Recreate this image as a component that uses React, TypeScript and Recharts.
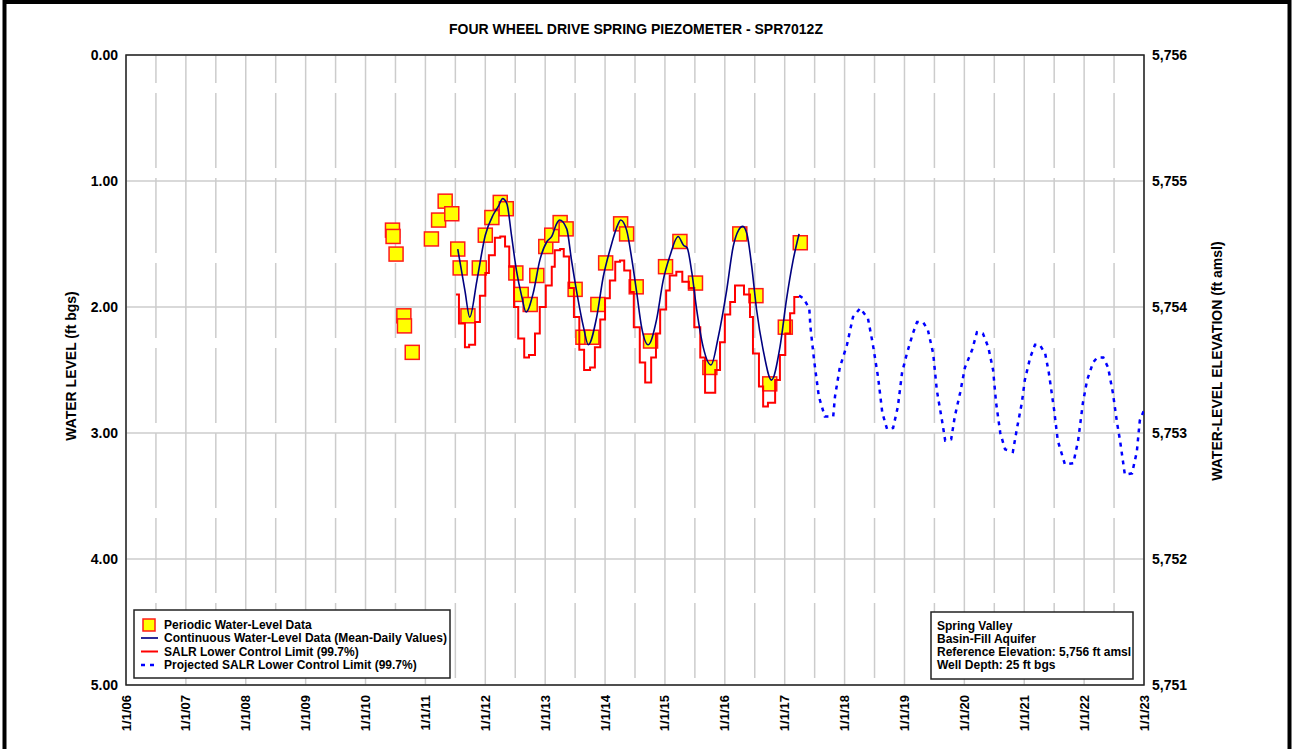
import React from 'react';
import { ComposedChart, Line, Scatter, XAxis, YAxis, CartesianGrid, ReferenceArea } from 'recharts';

const FONT = "'Liberation Sans', Arial, Helvetica, sans-serif";

const yearTicks = [2006, 2007, 2008, 2009, 2010, 2011, 2012, 2013, 2014, 2015, 2016, 2017, 2018, 2019, 2020, 2021, 2022, 2023];
const yearLabels = ['1/1/06', '1/1/07', '1/1/08', '1/1/09', '1/1/10', '1/1/11', '1/1/12', '1/1/13', '1/1/14', '1/1/15', '1/1/16', '1/1/17', '1/1/18', '1/1/19', '1/1/20', '1/1/21', '1/1/22', '1/1/23'];
const midYears = [2006.5, 2007.5, 2008.5, 2009.5, 2010.5, 2011.5, 2012.5, 2013.5, 2014.5, 2015.5, 2016.5, 2017.5, 2018.5, 2019.5, 2020.5, 2021.5, 2022.5];
const levelTicks = [0, 1, 2, 3, 4, 5];
const elevTicks = [5751, 5752, 5753, 5754, 5755, 5756];

const periodicT = [2010.45, 2010.46, 2010.51, 2010.64, 2010.65, 2010.78, 2011.10, 2011.22, 2011.33, 2011.44, 2011.54, 2011.58, 2011.71, 2011.90, 2012.00, 2012.11, 2012.25, 2012.35, 2012.51, 2012.60, 2012.75, 2012.86, 2013.01, 2013.11, 2013.25, 2013.35, 2013.50, 2013.63, 2013.78, 2013.88, 2014.01, 2014.26, 2014.36, 2014.52, 2014.76, 2015.01, 2015.25, 2015.51, 2015.75, 2016.25, 2016.52, 2016.75, 2017.01, 2017.26];
const periodicV = [1.39, 1.44, 1.58, 2.07, 2.15, 2.36, 1.46, 1.31, 1.16, 1.26, 1.54, 1.69, 2.07, 1.69, 1.43, 1.29, 1.17, 1.22, 1.73, 1.90, 1.98, 1.75, 1.52, 1.43, 1.33, 1.38, 1.86, 2.24, 2.24, 1.98, 1.65, 1.34, 1.42, 1.84, 2.27, 1.68, 1.48, 1.81, 2.48, 1.42, 1.91, 2.61, 2.16, 1.49];

const contT = [2011.54, 2011.66, 2011.74, 2011.86, 2012.00, 2012.13, 2012.22, 2012.29, 2012.36, 2012.44, 2012.52, 2012.61, 2012.68, 2012.80, 2012.91, 2013.03, 2013.11, 2013.19, 2013.24, 2013.36, 2013.44, 2013.53, 2013.64, 2013.72, 2013.86, 2013.97, 2014.08, 2014.22, 2014.26, 2014.36, 2014.45, 2014.53, 2014.61, 2014.72, 2014.86, 2014.97, 2015.08, 2015.22, 2015.31, 2015.37, 2015.45, 2015.53, 2015.64, 2015.77, 2015.89, 2016.03, 2016.14, 2016.23, 2016.30, 2016.37, 2016.45, 2016.53, 2016.64, 2016.78, 2016.92, 2017.03, 2017.14, 2017.24];
const contV = [1.54, 1.87, 2.08, 1.79, 1.43, 1.27, 1.20, 1.14, 1.18, 1.44, 1.71, 1.92, 2.04, 1.89, 1.63, 1.48, 1.44, 1.34, 1.31, 1.38, 1.63, 1.89, 2.16, 2.30, 2.08, 1.76, 1.55, 1.34, 1.31, 1.39, 1.63, 1.89, 2.16, 2.30, 2.10, 1.79, 1.60, 1.44, 1.51, 1.53, 1.73, 2.02, 2.32, 2.46, 2.24, 1.87, 1.52, 1.39, 1.36, 1.42, 1.68, 2.02, 2.34, 2.58, 2.32, 1.94, 1.63, 1.42];

const salrT = [2011.51, 2011.56, 2011.66, 2011.73, 2011.83, 2011.91, 2012.00, 2012.06, 2012.16, 2012.25, 2012.33, 2012.40, 2012.48, 2012.55, 2012.65, 2012.73, 2012.83, 2012.91, 2013.01, 2013.11, 2013.16, 2013.25, 2013.31, 2013.40, 2013.48, 2013.57, 2013.65, 2013.75, 2013.83, 2013.92, 2014.00, 2014.08, 2014.17, 2014.25, 2014.32, 2014.42, 2014.48, 2014.58, 2014.67, 2014.77, 2014.85, 2014.92, 2015.02, 2015.08, 2015.19, 2015.29, 2015.40, 2015.49, 2015.59, 2015.67, 2015.84, 2015.92, 2016.00, 2016.09, 2016.17, 2016.32, 2016.42, 2016.47, 2016.57, 2016.64, 2016.72, 2016.84, 2016.92, 2017.01, 2017.09, 2017.16, 2017.24];
const salrV = [1.90, 2.13, 2.32, 2.30, 2.12, 1.91, 1.73, 1.59, 1.45, 1.44, 1.52, 1.68, 2.00, 2.25, 2.40, 2.38, 2.21, 2.00, 1.83, 1.68, 1.55, 1.54, 1.60, 1.85, 2.08, 2.34, 2.50, 2.48, 2.32, 2.10, 1.93, 1.79, 1.64, 1.63, 1.71, 1.88, 2.16, 2.44, 2.60, 2.40, 2.21, 2.02, 1.87, 1.75, 1.72, 1.80, 1.85, 2.16, 2.40, 2.68, 2.50, 2.28, 2.06, 1.96, 1.83, 1.90, 2.08, 2.37, 2.63, 2.79, 2.76, 2.58, 2.38, 2.21, 2.05, 1.92, 1.92];

const projT = [2017.24, 2017.31, 2017.41, 2017.43, 2017.49, 2017.57, 2017.67, 2017.81, 2017.84, 2017.92, 2018.04, 2018.14, 2018.26, 2018.39, 2018.47, 2018.56, 2018.63, 2018.71, 2018.81, 2018.89, 2018.96, 2019.04, 2019.14, 2019.21, 2019.31, 2019.39, 2019.48, 2019.54, 2019.63, 2019.68, 2019.78, 2019.84, 2019.93, 2020.01, 2020.13, 2020.21, 2020.31, 2020.40, 2020.48, 2020.53, 2020.60, 2020.68, 2020.81, 2020.88, 2020.96, 2021.01, 2021.10, 2021.18, 2021.26, 2021.35, 2021.41, 2021.50, 2021.56, 2021.68, 2021.82, 2021.90, 2021.98, 2022.05, 2022.15, 2022.22, 2022.32, 2022.40, 2022.48, 2022.55, 2022.60, 2022.68, 2022.80, 2022.88, 2022.93, 2023.00];
const projV = [1.91, 1.93, 2.01, 2.16, 2.42, 2.71, 2.87, 2.87, 2.71, 2.48, 2.30, 2.08, 2.01, 2.09, 2.29, 2.56, 2.84, 2.97, 2.96, 2.79, 2.52, 2.37, 2.21, 2.12, 2.12, 2.18, 2.37, 2.66, 2.91, 3.06, 3.05, 2.87, 2.68, 2.48, 2.34, 2.20, 2.21, 2.32, 2.50, 2.76, 3.00, 3.13, 3.15, 2.96, 2.76, 2.58, 2.40, 2.30, 2.30, 2.37, 2.52, 2.82, 3.06, 3.25, 3.24, 3.06, 2.76, 2.58, 2.44, 2.40, 2.40, 2.48, 2.68, 2.92, 3.06, 3.33, 3.32, 3.15, 2.90, 2.82];

const legendLabels = [
  'Periodic Water-Level Data',
  'Continuous Water-Level Data (Mean-Daily Values)',
  'SALR Lower Control Limit (99.7%)',
  'Projected SALR Lower Control Limit (99.7%)',
];
const infoLines = ['Spring Valley', 'Basin-Fill Aquifer', 'Reference Elevation: 5,756 ft amsl', 'Well Depth: 25 ft bgs'];

const toRows = (ts: number[], vs: number[]) => ts.map((t, i) => ({ t, v: vs[i] }));
const periodic = toRows(periodicT, periodicV);
const cont = toRows(contT, contV);
const salr = toRows(salrT, salrV);
const proj = toRows(projT, projV);

const Square = (props: any) => {
  const { cx, cy } = props;
  if (cx == null || cy == null) return null;
  return <rect x={cx - 7} y={cy - 7} width={14} height={14} fill="#ffff00" stroke="#ff1a1a" strokeWidth={1.5} />;
};

const XTick = (props: any) => {
  const { x, y, payload } = props;
  const idx = yearTicks.indexOf(payload.value);
  const label = idx >= 0 ? yearLabels[idx] : '';
  const yy = y + 2;
  return (
    <text x={x} y={yy} transform={`rotate(-90 ${x} ${yy})`} textAnchor="end" dy="0.35em" fontFamily={FONT} fontWeight="bold" fontSize={13} fill="#000">
      {label}
    </text>
  );
};

const tickStyle = { fontFamily: FONT, fontWeight: 'bold', fontSize: 14, fill: '#000' } as any;

export default function App() {
  return (
    <div style={{ position: 'absolute', left: 0, top: 0, width: 1296, height: 749, background: '#fff', overflow: 'hidden' }}>
      <ComposedChart width={1296} height={749} margin={{ top: 55, right: 0, bottom: 0, left: 0 }}>
        <CartesianGrid yAxisId="L" horizontal vertical verticalValues={yearTicks} stroke="#cccccc" strokeWidth={1.5} />
        <CartesianGrid yAxisId="L" horizontal={false} vertical verticalValues={midYears} stroke="#cccccc" strokeWidth={1.5} strokeDasharray="75 10" strokeDashoffset={47} />
        <XAxis dataKey="t" type="number" domain={[2006, 2023]} ticks={yearTicks} interval={0} height={64} tick={<XTick />} tickLine={false} axisLine={false} allowDataOverflow />
        <YAxis yAxisId="L" type="number" domain={[0, 5]} reversed ticks={levelTicks} interval={0} width={126} tick={tickStyle} tickFormatter={(v: number) => v.toFixed(2)} axisLine={false} tickLine={false} allowDataOverflow />
        <YAxis yAxisId="R" orientation="right" type="number" domain={[5751, 5756]} ticks={elevTicks} interval={0} width={152} tick={tickStyle} tickFormatter={(v: number) => v.toLocaleString('en-US')} axisLine={false} tickLine={false} allowDataOverflow />
        <ReferenceArea yAxisId="L" x1={2006} x2={2023} y1={0} y2={5} fill="none" fillOpacity={0} stroke="#222" strokeWidth={1.5} ifOverflow="visible" />
        <Scatter yAxisId="L" data={periodic} dataKey="v" shape={Square} isAnimationActive={false} zIndex={350} />
        <Line yAxisId="L" data={salr} dataKey="v" type="stepAfter" stroke="#ff0000" strokeWidth={2} dot={false} activeDot={false} isAnimationActive={false} />
        <Line yAxisId="L" data={cont} dataKey="v" type="monotone" stroke="#000080" strokeWidth={1.6} dot={false} activeDot={false} isAnimationActive={false} />
        <Line yAxisId="L" data={proj} dataKey="v" type="linear" stroke="#0000ff" strokeWidth={2.5} strokeDasharray="4 5" dot={false} activeDot={false} isAnimationActive={false} />
      </ComposedChart>
      <svg width={1296} height={749} style={{ position: 'absolute', left: 0, top: 0, pointerEvents: 'none' }}>
        <rect x={4.5} y={2} width={1285} height={800} fill="none" stroke="#000" strokeWidth={4} />
        <text x={636} y={34} textAnchor="middle" fontFamily={FONT} fontWeight="bold" fontSize={14} fill="#000">FOUR WHEEL DRIVE SPRING PIEZOMETER - SPR7012Z</text>
        <text x={71} y={366} transform="rotate(-90 71 366)" textAnchor="middle" dy="0.35em" fontFamily={FONT} fontWeight="bold" fontSize={14} fill="#000">WATER LEVEL (ft bgs)</text>
        <text x={1217} y={361} transform="rotate(-90 1217 361)" textAnchor="middle" dy="0.35em" fontFamily={FONT} fontWeight="bold" fontSize={14} fill="#000">WATER-LEVEL ELEVATION (ft amsl)</text>
        <g>
          <rect x={134} y={610} width={316} height={68} fill="#fff" stroke="#222" strokeWidth={1.5} />
          <rect x={143} y={619} width={12} height={12} fill="#ffff00" stroke="#ff1a1a" strokeWidth={1.5} />
          <line x1={141} x2={158} y1={638} y2={638} stroke="#2a2a9a" strokeWidth={2} />
          <line x1={141} x2={158} y1={651.5} y2={651.5} stroke="#ff0000" strokeWidth={2} />
          <line x1={141} x2={158} y1={665} y2={665} stroke="#0000ff" strokeWidth={2.5} strokeDasharray="4 5" />
          {legendLabels.map((s, i) => (
            <text key={s} x={164} y={629 + i * 13.4} fontFamily={FONT} fontWeight="bold" fontSize={12} fill="#000">{s}</text>
          ))}
        </g>
        <g>
          <rect x={931} y={612} width={202} height={67} fill="#fff" stroke="#222" strokeWidth={1.5} />
          {infoLines.map((s, i) => (
            <text key={s} x={937} y={630 + i * 13.1} fontFamily={FONT} fontWeight="bold" fontSize={12} fill="#000">{s}</text>
          ))}
        </g>
      </svg>
    </div>
  );
}
